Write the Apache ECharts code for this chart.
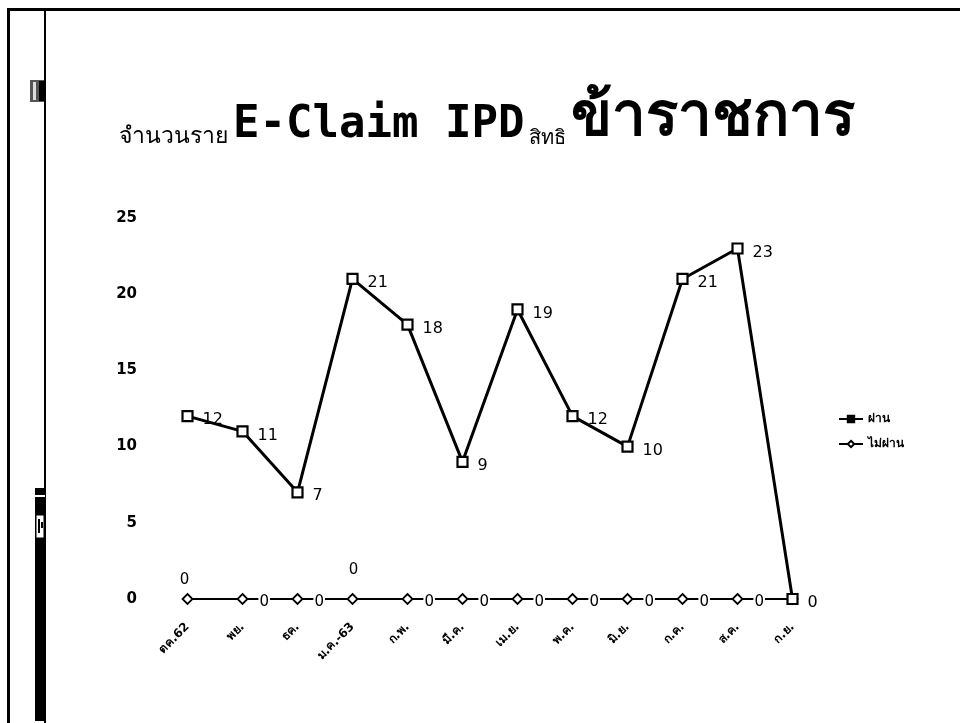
<!DOCTYPE html>
<html>
<head>
<meta charset="utf-8">
<script src="https://cdn.jsdelivr.net/npm/echarts@6/dist/echarts.min.js"></script>
<style>
html,body{margin:0;padding:0;background:#fff;}
#c{width:960px;height:723px;}
</style>
</head>
<body>
<div id="c"></div>
<script>
const categories = ['ตค.62', 'พย.', 'ธค.', 'ม.ค.-63', 'ก.พ.', 'มี.ค.', 'เม.ย.', 'พ.ค.', 'มิ.ย.', 'ก.ค.', 'ส.ค.', 'ก.ย.'];
const passed = [12, 11, 7, 21, 18, 9, 19, 12, 10, 21, 23, 0];
const failed = [0, 0, 0, 0, 0, 0, 0, 0, 0, 0, 0, 0];
const seriesNames = ['ผ่าน', 'ไม่ผ่าน'];
const yTicks = { min: 0, max: 25, interval: 5 };

const chart = echarts.init(document.getElementById('c'));

const labelFont = "'DejaVu Sans', sans-serif";

const failedData = failed.map(function (v, i) {
  let label;
  if (i === 0) {
    label = { show: true, position: 'top', distance: 5, offset: [-3, 0] };
  } else if (i === 3) {
    label = { show: true, position: 'top', distance: 15, offset: [1, 0] };
  } else if (i === failed.length - 1) {
    label = { show: false };
  } else {
    label = { show: true, position: 'right', distance: 10, offset: [0, 3], backgroundColor: '#fff', padding: [0, 1] };
  }
  return { value: v, label: label };
});

chart.setOption({
  animation: false,
  backgroundColor: '#fff',
  title: {
    text: '{a|จำนวนราย} {b|E-Claim IPD} {c|สิทธิ} {d|ข้าราชการ}',
    left: 114,
    top: 83,
    textStyle: {
      rich: {
        a: { fontSize: 23, color: '#000', fontWeight: 'normal', fontFamily: "'Noto Sans', sans-serif", verticalAlign: 'bottom' },
        b: { fontSize: 44, color: '#000', fontFamily: "'DejaVu Sans Mono', monospace", verticalAlign: 'bottom' },
        c: { fontSize: 20, color: '#000', fontWeight: 'normal', fontFamily: "'Noto Sans', sans-serif", verticalAlign: 'bottom' },
        d: { fontSize: 60, color: '#000', fontWeight: 'bold', fontFamily: "'Noto Sans', sans-serif", verticalAlign: 'bottom' }
      }
    }
  },
  legend: {
    orient: 'vertical',
    left: 833,
    top: 408,
    itemGap: 13,
    itemWidth: 24,
    itemHeight: 8,
    textStyle: { fontSize: 12, fontWeight: 'bold', color: '#000', fontFamily: labelFont },
    data: [
      { name: seriesNames[0], itemStyle: { color: '#000', borderColor: '#000' } },
      { name: seriesNames[1] }
    ]
  },
  grid: { left: 160, width: 660, top: 218, height: 381, containLabel: false },
  xAxis: {
    type: 'category',
    data: categories,
    boundaryGap: true,
    axisLine: { show: false },
    axisTick: { show: false },
    axisLabel: {
      rotate: 45,
      margin: 26,
      fontSize: 12,
      fontWeight: 'bold',
      color: '#000',
      fontFamily: labelFont
    }
  },
  yAxis: {
    type: 'value',
    min: yTicks.min,
    max: yTicks.max,
    interval: yTicks.interval,
    axisLine: { show: false },
    axisTick: { show: false },
    splitLine: { show: false },
    axisLabel: {
      margin: 23,
      fontSize: 15,
      fontWeight: 'bold',
      color: '#000',
      fontFamily: labelFont
    }
  },
  series: [
    {
      name: seriesNames[1],
      type: 'line',
      data: failedData,
      z: 2,
      symbol: 'diamond',
      symbolSize: 10,
      lineStyle: { color: '#000', width: 2 },
      itemStyle: { color: '#fff', borderColor: '#000', borderWidth: 1.8 },
      label: { fontSize: 15, color: '#000', fontFamily: labelFont },
      emphasis: { disabled: true }
    },
    {
      name: seriesNames[0],
      type: 'line',
      data: passed,
      z: 3,
      symbol: 'rect',
      symbolSize: 10,
      lineStyle: { color: '#000', width: 3 },
      itemStyle: { color: '#fff', borderColor: '#000', borderWidth: 2.2 },
      label: {
        show: true,
        position: 'right',
        distance: 9,
        offset: [0, 4],
        fontSize: 16,
        color: '#000',
        fontFamily: labelFont
      },
      emphasis: { disabled: true }
    }
  ],
  graphic: [
    { type: 'rect', shape: { x: 7, y: 8, width: 953, height: 3 }, style: { fill: '#000' } },
    { type: 'rect', shape: { x: 7, y: 8, width: 3, height: 715 }, style: { fill: '#000' } },
    { type: 'rect', shape: { x: 44, y: 10, width: 2, height: 713 }, style: { fill: '#000' } },
    { type: 'rect', shape: { x: 30, y: 80, width: 14, height: 22 }, style: { fill: '#555' } },
    { type: 'rect', shape: { x: 33, y: 82, width: 3, height: 18 }, style: { fill: '#ddd' } },
    { type: 'rect', shape: { x: 39, y: 81, width: 5, height: 20 }, style: { fill: '#000' } },
    { type: 'rect', shape: { x: 35, y: 488, width: 10, height: 233 }, style: { fill: '#000' } },
    { type: 'rect', shape: { x: 35, y: 495, width: 10, height: 2 }, style: { fill: '#fff' } },
    { type: 'rect', shape: { x: 36, y: 515, width: 8, height: 23 }, style: { fill: '#fff', stroke: '#000', lineWidth: 1 } },
    { type: 'rect', shape: { x: 38, y: 519, width: 2, height: 14 }, style: { fill: '#000' } },
    { type: 'rect', shape: { x: 41, y: 522, width: 2, height: 6 }, style: { fill: '#000' } }
  ]
});
</script>
</body>
</html>
